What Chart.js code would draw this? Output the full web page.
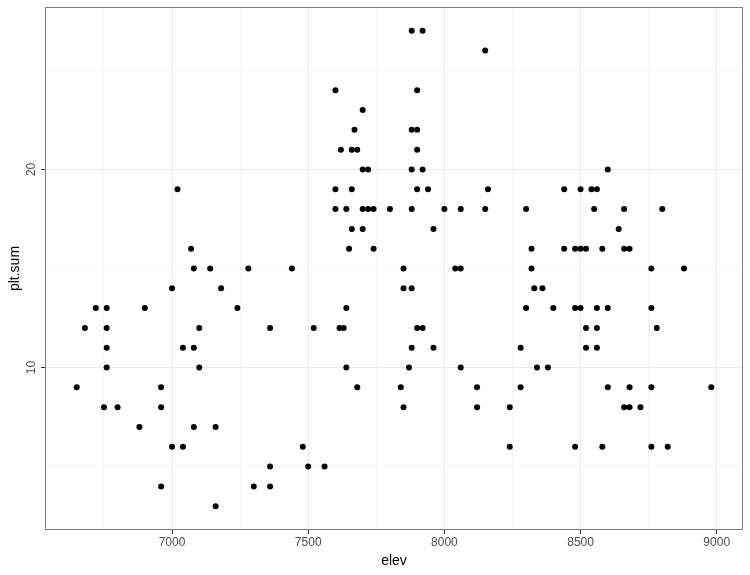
<!DOCTYPE html>
<html>
<head>
<meta charset="utf-8">
<script src="https://cdn.jsdelivr.net/npm/chart.js@4/dist/chart.umd.min.js"></script>
<style>
  html, body { margin: 0; padding: 0; background: #fff; }
</style>
</head>
<body>
<canvas id="myChart" width="750" height="575"></canvas>
<script>
// elevation of each plot and its summed value
var elev = [
    6650, 6680, 6720, 6750, 6760, 6760, 6760, 6760, 6800, 6880, 6900, 6960, 6960, 6960,
    7000, 7000, 7020, 7040, 7040, 7070, 7080, 7080, 7080, 7100, 7100, 7140, 7160, 7160,
    7180, 7240, 7280, 7300, 7360, 7360, 7360,
    7440, 7480, 7500, 7520, 7560, 7600, 7600, 7600, 7620, 7615, 7630, 7640, 7640, 7640,
    7650, 7660, 7660, 7660, 7670, 7680, 7680, 7700, 7700, 7700, 7700, 7720, 7720, 7740,
    7740, 7800, 7840, 7850, 7850, 7850, 7870, 7880, 7880, 7880, 7880, 7880, 7880, 7900,
    7900, 7900, 7900, 7900, 7920, 7920, 7920, 7940, 7960, 7960, 8000, 8040, 8060, 8060,
    8060, 8120, 8120, 8150, 8150, 8160, 8240, 8240,
    8280, 8280, 8300, 8300, 8320, 8320, 8330, 8340, 8360, 8380, 8400, 8440, 8440, 8480,
    8480, 8480, 8500, 8500, 8500, 8520, 8520, 8520, 8540, 8550, 8560, 8560, 8560, 8560,
    8580, 8580, 8600, 8600, 8600, 8640, 8660, 8660, 8660, 8680, 8680, 8680, 8720, 8760,
    8760, 8760, 8760, 8780, 8800, 8820, 8880, 8980
];
var pltSum = [
    9, 12, 13, 8, 13, 12, 11, 10, 8, 7, 13, 9, 8, 4,
    14, 6, 19, 11, 6, 16, 15, 11, 7, 12, 10, 15, 7, 3,
    14, 13, 15, 4, 12, 5, 4,
    15, 6, 5, 12, 5, 24, 19, 18, 21, 12, 12, 18, 13, 10,
    16, 21, 19, 17, 22, 21, 9, 23, 20, 18, 17, 20, 18, 18,
    16, 18, 9, 15, 14, 8, 10, 27, 22, 20, 18, 14, 11, 24,
    22, 21, 19, 12, 27, 20, 12, 19, 17, 11, 18, 15, 18, 15,
    10, 9, 8, 26, 18, 19, 8, 6,
    11, 9, 18, 13, 16, 15, 14, 10, 14, 10, 13, 19, 16, 16,
    13, 6, 19, 16, 13, 16, 12, 11, 19, 18, 19, 13, 12, 11,
    16, 6, 20, 13, 9, 17, 18, 16, 8, 16, 9, 8, 8, 15,
    13, 9, 6, 12, 18, 6, 15, 9
];

var xTicks = [6750, 7000, 7250, 7500, 7750, 8000, 8250, 8500, 8750, 9000];
var xLabels = [7000, 7500, 8000, 8500, 9000];
var yTicks = [5, 10, 15, 20, 25];
var yLabels = [10, 20];

var points = [];
for (var i = 0; i < elev.length; i++) {
    points.push({ x: elev[i], y: pltSum[i] });
}

var tickFont = { family: "'Liberation Sans', Arial, sans-serif", size: 12 };
var titleFont = { family: "'Liberation Sans', Arial, sans-serif", size: 14 };

function gridColor(labels) {
    return function (c) {
        if (!c.tick) return '#ebebeb';
        return labels.indexOf(c.tick.value) >= 0 ? '#ebebeb' : '#f5f5f5';
    };
}
function tickMarkColor(labels) {
    return function (c) {
        if (!c.tick) return '#333333';
        return labels.indexOf(c.tick.value) >= 0 ? '#333333' : 'rgba(0,0,0,0)';
    };
}

// ggplot style box round the panel
var panelBorder = {
    id: 'panelBorder',
    afterDatasetsDraw: function (chart) {
        var a = chart.chartArea;
        var ctx = chart.ctx;
        ctx.save();
        ctx.strokeStyle = '#7f7f7f';
        ctx.lineWidth = 1;
        ctx.strokeRect(a.left + 0.5, a.top + 0.5, a.right - a.left - 1, a.bottom - a.top - 1);
        ctx.restore();
    }
};

var ctx = document.getElementById("myChart").getContext("2d");
var chartObj = new Chart(ctx, {
    type: 'scatter',
    data: {
        datasets: [{
            label: 'plt.sum',
            data: points,
            backgroundColor: '#000000',
            borderColor: '#000000',
            borderWidth: 0,
            pointRadius: 3
        }]
    },
    options: {
        responsive: false,
        animation: false,
        layout: { padding: { top: 7, right: 7, left: 0, bottom: 0 } },
        plugins: { legend: { display: false }, tooltip: { enabled: false } },
        scales: {
            x: {
                type: 'linear',
                min: 6533.5,
                max: 9096.5,
                afterBuildTicks: function (s) {
                    s.ticks = xTicks.map(function (v) { return { value: v }; });
                },
                afterFit: function (s) {
                    s.height = 45;
                    s.paddingLeft = 0;
                    s.paddingRight = 0;
                },
                ticks: {
                    autoSkip: false,
                    maxRotation: 0,
                    padding: 1.5,
                    color: '#4d4d4d',
                    font: tickFont,
                    callback: function (v) { return xLabels.indexOf(v) >= 0 ? String(v) : ''; }
                },
                grid: {
                    color: gridColor(xLabels),
                    tickColor: tickMarkColor(xLabels),
                    tickLength: 4,
                    lineWidth: 1
                },
                border: { display: false },
                title: {
                    display: true,
                    text: 'elev',
                    color: '#000000',
                    font: titleFont,
                    padding: { top: 0, bottom: 5 }
                }
            },
            y: {
                type: 'linear',
                min: 1.8,
                max: 28.2,
                afterBuildTicks: function (s) {
                    s.ticks = yTicks.map(function (v) { return { value: v }; });
                },
                afterFit: function (s) {
                    s.width = 45;
                    s.paddingTop = 0;
                    s.paddingBottom = 0;
                },
                ticks: {
                    autoSkip: false,
                    minRotation: 90,
                    maxRotation: 90,
                    crossAlign: 'center',
                    padding: 3,
                    color: '#4d4d4d',
                    font: tickFont,
                    callback: function (v) { return yLabels.indexOf(v) >= 0 ? String(v) : ''; }
                },
                grid: {
                    color: gridColor(yLabels),
                    tickColor: tickMarkColor(yLabels),
                    tickLength: 4,
                    lineWidth: 1
                },
                border: { display: false },
                title: {
                    display: true,
                    text: 'plt.sum',
                    color: '#000000',
                    font: titleFont,
                    padding: { top: 7, bottom: 0 }
                }
            }
        }
    },
    plugins: [panelBorder]
});
</script>
</body>
</html>
